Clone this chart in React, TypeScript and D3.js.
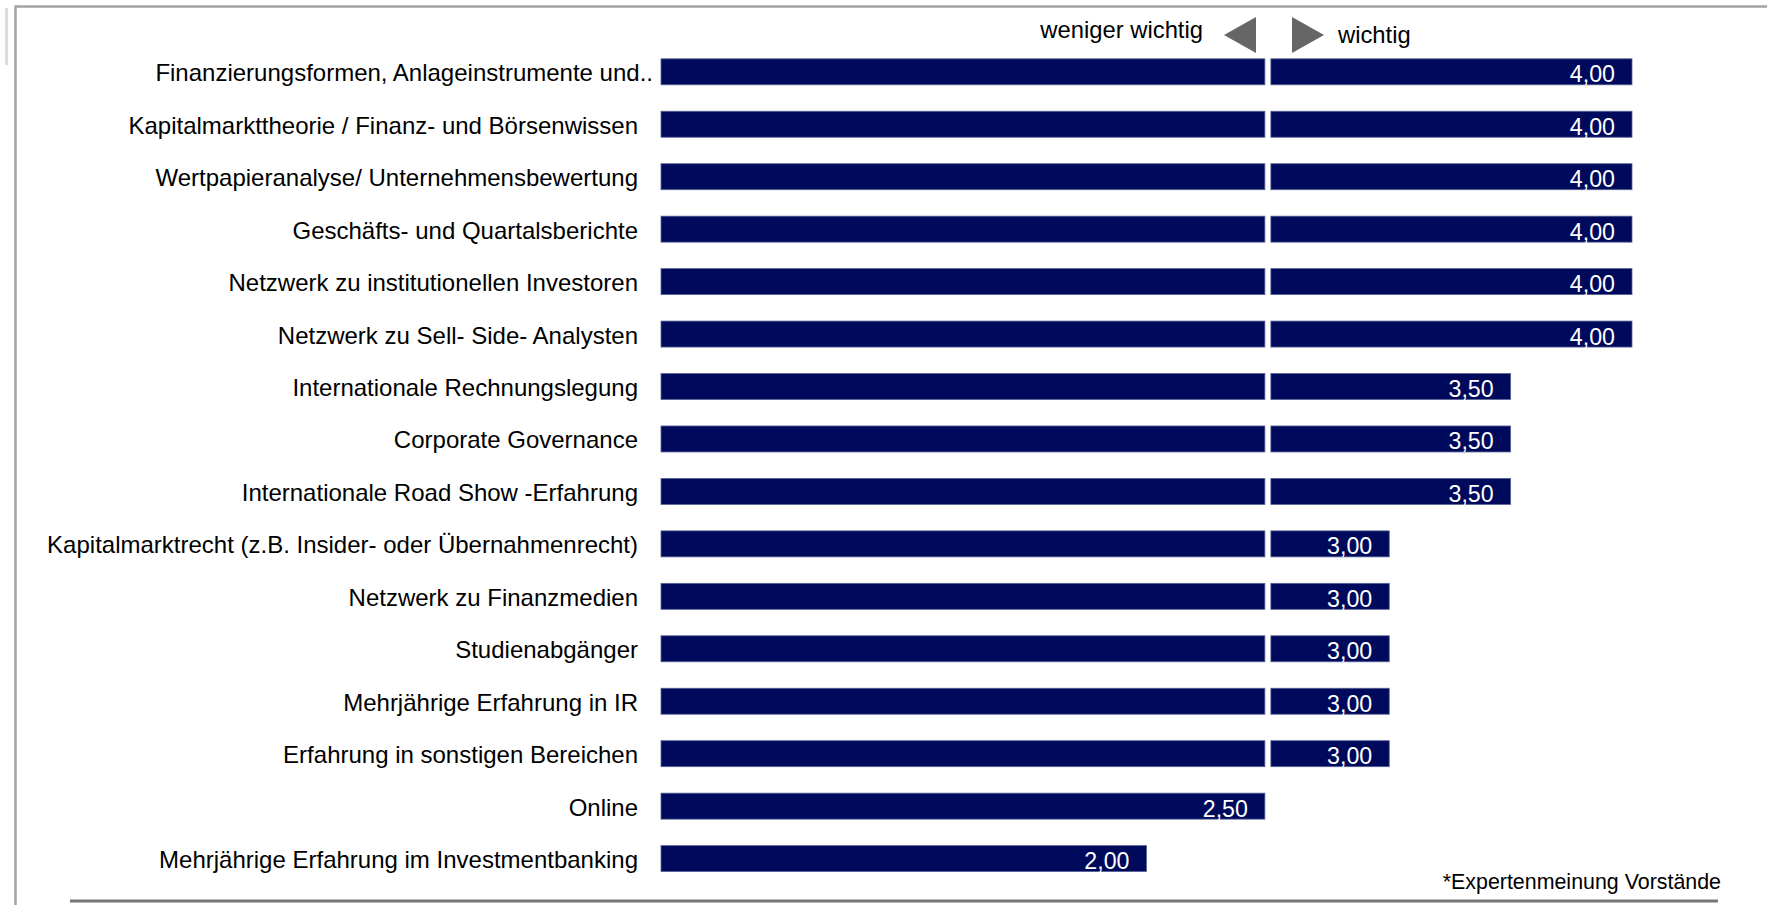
import React from "react";
import * as d3 from "d3";

const categories = [
  "Finanzierungsformen, Anlageinstrumente und..",
  "Kapitalmarkttheorie / Finanz- und Börsenwissen",
  "Wertpapieranalyse/ Unternehmensbewertung",
  "Geschäfts- und Quartalsberichte",
  "Netzwerk zu institutionellen Investoren",
  "Netzwerk zu Sell- Side- Analysten",
  "Internationale Rechnungslegung",
  "Corporate Governance",
  "Internationale Road Show -Erfahrung",
  "Kapitalmarktrecht (z.B. Insider- oder Übernahmenrecht)",
  "Netzwerk zu Finanzmedien",
  "Studienabgänger",
  "Mehrjährige Erfahrung in IR",
  "Erfahrung in sonstigen Bereichen",
  "Online",
  "Mehrjährige Erfahrung im Investmentbanking",
];

const values = [4, 4, 4, 4, 4, 4, 3.5, 3.5, 3.5, 3, 3, 3, 3, 3, 2.5, 2];

// split point between "weniger wichtig" and "wichtig"
const midpoint = 2.5;
const leftLabel = "weniger wichtig";
const rightLabel = "wichtig";
const footnote = "*Expertenmeinung Vorstände";

const W = 1767;
const H = 905;
const barColor = "#000a5c";
const font = "'Liberation Sans', Arial, sans-serif";

const fmt = (v: number) => d3.format(".2f")(v).replace(".", ",");

export default function App() {
  const x = d3.scaleLinear().domain([0, 4]).range([661, 1632]);
  const y = d3.scalePoint<string>().domain(categories).range([71.8, 858.6]);
  const bh = 26;
  const gap = 3;
  const xm = x(midpoint);

  return (
    <svg
      width={W}
      height={H}
      style={{ position: "absolute", left: 0, top: 0, background: "#fff" }}
      fontFamily={font}
    >
      {/* frame */}
      <line x1={6.5} x2={6.5} y1={8} y2={65} stroke="#dcdcdc" strokeWidth={3} />
      <line x1={15} x2={W} y1={6.5} y2={6.5} stroke="#a3a3a3" strokeWidth={2.5} />
      <line x1={15.5} x2={15.5} y1={5.5} y2={H} stroke="#a3a3a3" strokeWidth={2.5} />

      {/* header */}
      <text x={1203} y={38} fontSize={23.8} textAnchor="end" fill="#000">
        {leftLabel}
      </text>
      <path d={`M1224,35 L1256,17 L1256,53 Z`} fill="#666" />
      <path d={`M1292,17 L1324,35 L1292,53 Z`} fill="#666" />
      <text x={1338} y={43} fontSize={23.8} fill="#000">
        {rightLabel}
      </text>

      {categories.map((c, i) => {
        const v = values[i];
        const cy = y(c) as number;
        const leftEnd = v >= midpoint ? xm - gap : x(v);
        const end = v > midpoint ? x(v) : leftEnd;
        // truncated label runs into the gap next to the bar
        const lx = c.endsWith("..") ? 653 : 638;
        return (
          <g key={c}>
            <text x={lx} y={cy + 9.5} fontSize={24} textAnchor="end" fill="#000">
              {c}
            </text>
            <rect
              x={x(0)}
              y={cy - bh / 2}
              width={leftEnd - x(0)}
              height={bh}
              fill={barColor}
              stroke="#5a6496"
              strokeWidth={0.8}
            />
            {v > midpoint && (
              <rect
                x={xm + gap}
                y={cy - bh / 2}
                width={x(v) - xm - gap}
                height={bh}
                fill={barColor}
                stroke="#5a6496"
                strokeWidth={0.8}
              />
            )}
            <text x={end - 17} y={cy + 10.5} fontSize={23.2} textAnchor="end" fill="#fff">
              {fmt(v)}
            </text>
          </g>
        );
      })}

      {/* footer */}
      <text x={1721} y={889} fontSize={21.4} textAnchor="end" fill="#000">
        {footnote}
      </text>
      <line x1={70} x2={1718} y1={901} y2={901} stroke="#777" strokeWidth={3} />
    </svg>
  );
}
